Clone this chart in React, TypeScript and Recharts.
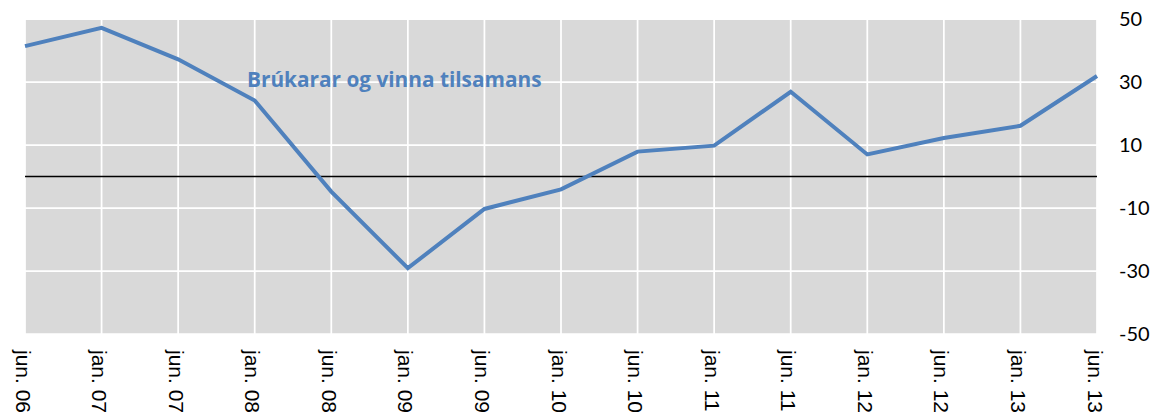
import React from "react";
import { LineChart, Line, XAxis, YAxis, CartesianGrid, ReferenceLine } from "recharts";

const categories = [
  "jun. 06", "jan. 07", "jun. 07", "jan. 08", "jun. 08", "jan. 09", "jun. 09", "jan. 10",
  "jun. 10", "jan. 11", "jun. 11", "jan. 12", "jun. 12", "jan. 13", "jun. 13",
];
const values = [41.4, 47.2, 37.2, 24.1, -4.8, -29.1, -10.3, -4.1, 7.9, 9.8, 26.9, 7.0, 12.2, 16.1, 31.9];
const yTicks = [-50, -30, -10, 10, 30, 50];
const seriesLabel = "Brúkarar og vinna tilsamans";

const data = categories.map((c, i) => ({ name: c, value: values[i] }));

const XTick = (props: any) => {
  const { x, payload } = props;
  const y = 350;
  return (
    <text
      x={x - 2}
      y={y}
      transform={`rotate(90, ${x - 2}, ${y})`}
      textAnchor="start"
      dominantBaseline="central"
      fontFamily="'Liberation Sans', Arial, sans-serif"
      fontSize={21}
      fill="#000"
    >
      {payload.value}
    </text>
  );
};

export default function App() {
  return (
    <div style={{ position: "absolute", left: 0, top: 0, width: 1157, height: 420, background: "#fff" }}>
      <LineChart
        width={1157}
        height={420}
        data={data}
        margin={{ top: 19, right: 0, bottom: 0, left: 25 }}
      >
        <CartesianGrid fill="#D9D9D9" stroke="#FFFFFF" strokeWidth={1.75} />
        <XAxis
          dataKey="name"
          interval={0}
          height={86}
          axisLine={false}
          tickLine={false}
          tick={<XTick />}
        />
        <YAxis
          orientation="right"
          domain={[-50, 50]}
          ticks={yTicks}
          width={60}
          axisLine={false}
          tickLine={false}
          tickMargin={16}
          tick={{ fontFamily: "Lato, sans-serif", fontSize: 20, fill: "#000", textAnchor: "start" }}
        />
        <ReferenceLine y={0} stroke="#000" strokeWidth={1.5} />
        <Line
          type="linear"
          dataKey="value"
          stroke="#4F81BD"
          strokeWidth={4}
          dot={false}
          activeDot={false}
          isAnimationActive={false}
        />
      </LineChart>
      <svg width={1157} height={420} style={{ position: "absolute", left: 0, top: 0, pointerEvents: "none" }}>
        <text x={247} y={87} fontFamily="'Open Sans', sans-serif" fontWeight="bold" fontSize={20.8} fill="#4F81BD">
          {seriesLabel}
        </text>
      </svg>
    </div>
  );
}
